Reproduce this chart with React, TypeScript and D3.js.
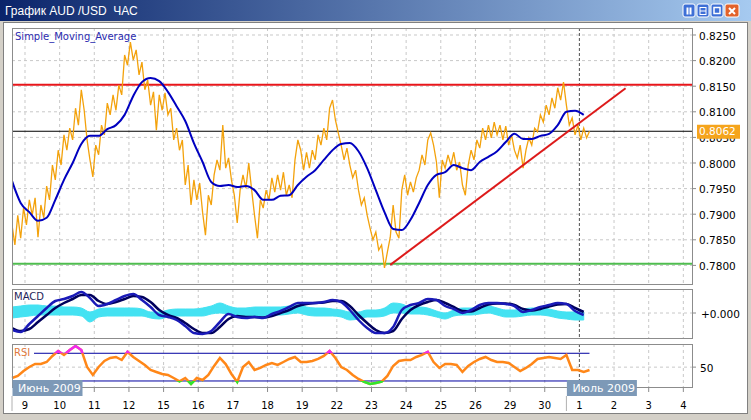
import * as d3 from 'd3';

// day labels under the chart, one per 24 hourly bars (weekends are skipped)
const DAY_LABELS = ['9', '10', '11', '12', '15', '16', '17', '18', '19', '22', '23', '24', '25', '26', '29', '30', '1', '2', '3', '4'];
const PRICE_TICKS = [0.825, 0.82, 0.815, 0.81, 0.805, 0.8, 0.795, 0.79, 0.785, 0.78];
const MONTHS = [
  { label: 'Июнь 2009', hour: -9 },
  { label: 'Июль 2009', hour: 375 },
];

// hours are counted from 9 June 00:00
const FIRST_HOUR = -9;
const PRICE_STEP = 2;
const price = [
  0.7879, 0.7840, 0.7898, 0.7853, 0.7912, 0.7879, 0.7928, 0.7898, 0.7932, 0.7855,
  0.7918, 0.7893, 0.7955, 0.7928, 0.7996, 0.7967, 0.8025, 0.7996, 0.8055, 0.8025,
  0.8068, 0.8045, 0.8107, 0.8074, 0.8143, 0.8103, 0.8045, 0.8006, 0.7973, 0.8035,
  0.8016, 0.8074, 0.8055, 0.8117, 0.8094, 0.8133, 0.8103, 0.8152, 0.8133, 0.8211,
  0.8191, 0.8236, 0.8201, 0.8221, 0.8172, 0.8197, 0.8143, 0.8162, 0.8113, 0.8139,
  0.8064, 0.8133, 0.8103, 0.8137, 0.8094, 0.8107, 0.8045, 0.8068, 0.8025, 0.8045,
  0.7957, 0.7996, 0.7918, 0.7967, 0.7928, 0.7961, 0.7904, 0.7859, 0.7937, 0.7918,
  0.7977, 0.8006, 0.7986, 0.8074, 0.7990, 0.8010, 0.7967, 0.7937, 0.7883, 0.7947,
  0.7977, 0.7951, 0.8000, 0.7947, 0.7898, 0.7853, 0.7928, 0.7912, 0.7947, 0.7928,
  0.7971, 0.7943, 0.7977, 0.7947, 0.7982, 0.7937, 0.7957, 0.7932, 0.8006, 0.8045,
  0.8025, 0.7986, 0.8021, 0.7990, 0.8025, 0.8006, 0.8055, 0.8035, 0.8068, 0.8045,
  0.8107, 0.8123, 0.8084, 0.8059, 0.8035, 0.8006, 0.8029, 0.7996, 0.7971, 0.7986,
  0.7947, 0.7918, 0.7932, 0.7898, 0.7873, 0.7850, 0.7865, 0.7830, 0.7840, 0.7795,
  0.7826, 0.7855, 0.7918, 0.7865, 0.7853, 0.7947, 0.7977, 0.7937, 0.7963, 0.7943,
  0.7971, 0.7986, 0.8016, 0.7996, 0.8045, 0.8059, 0.8035, 0.8002, 0.7932, 0.8006,
  0.7990, 0.8016, 0.7996, 0.8021, 0.7986, 0.8002, 0.7957, 0.7937, 0.7996, 0.8025,
  0.8006, 0.8045, 0.8029, 0.8068, 0.8045, 0.8074, 0.8049, 0.8080, 0.8055, 0.8074,
  0.8045, 0.8072, 0.8035, 0.8055, 0.8025, 0.8010, 0.8035, 0.7990, 0.8025, 0.8049,
  0.8035, 0.8068, 0.8061, 0.8094, 0.8080, 0.8113, 0.8094, 0.8127, 0.8107, 0.8147,
  0.8123, 0.8158, 0.8113, 0.8074, 0.8088, 0.8055, 0.8074, 0.8045, 0.8068, 0.8049,
  0.8062,
];

const IND_STEP = 6;
const sma = [
  0.7965, 0.7922, 0.7904, 0.7887, 0.7893, 0.7928, 0.7967, 0.8000, 0.8037, 0.8053,
  0.8053, 0.8066, 0.8074, 0.8094, 0.8131, 0.8158, 0.8166, 0.8160, 0.8139, 0.8111,
  0.8082, 0.8039, 0.8002, 0.7963, 0.7955, 0.7957, 0.7953, 0.7955, 0.7947, 0.7928,
  0.7928, 0.7936, 0.7937, 0.7957, 0.7973, 0.7986, 0.8006, 0.8025, 0.8037, 0.8039,
  0.8023, 0.7990, 0.7947, 0.7904, 0.7871, 0.7869, 0.7889, 0.7922, 0.7957, 0.7977,
  0.7982, 0.7996, 0.7990, 0.7986, 0.8002, 0.8012, 0.8023, 0.8041, 0.8057, 0.8047,
  0.8047, 0.8053, 0.8057, 0.8074, 0.8100, 0.8102, 0.8094,
];

const macd = [
  -0.0034, -0.0038, -0.0022, -0.0006, 0.0010, 0.0024, 0.0028, 0.0034, 0.0042, 0.0030,
  0.0014, 0.0018, 0.0026, 0.0034, 0.0038, 0.0026, 0.0012, -0.0004, -0.0008, -0.0014,
  -0.0026, -0.0040, -0.0042, -0.0036, -0.0018, -0.0002, -0.0008, -0.0010, -0.0008, -0.0010,
  -0.0002, 0.0004, 0.0012, 0.0020, 0.0020, 0.0020, 0.0022, 0.0026, 0.0022, 0.0006,
  -0.0014, -0.0030, -0.0040, -0.0040, -0.0028, 0.0006, 0.0016, 0.0020, 0.0028, 0.0026,
  0.0014, 0.0008, 0.0000, 0.0006, 0.0016, 0.0020, 0.0020, 0.0018, 0.0014, 0.0002,
  0.0006, 0.0012, 0.0016, 0.0020, 0.0018, 0.0004, -0.0004,
];
const signal = [
  -0.0030, -0.0036, -0.0032, -0.0018, -0.0004, 0.0010, 0.0020, 0.0028, 0.0036, 0.0036,
  0.0024, 0.0018, 0.0022, 0.0028, 0.0034, 0.0032, 0.0022, 0.0006, -0.0004, -0.0010,
  -0.0020, -0.0032, -0.0040, -0.0040, -0.0028, -0.0012, -0.0006, -0.0008, -0.0008, -0.0009,
  -0.0006, 0.0000, 0.0006, 0.0014, 0.0018, 0.0020, 0.0021, 0.0024, 0.0024, 0.0014,
  -0.0004, -0.0020, -0.0034, -0.0040, -0.0036, -0.0012, 0.0006, 0.0016, 0.0022, 0.0026,
  0.0020, 0.0012, 0.0004, 0.0003, 0.0010, 0.0017, 0.0019, 0.0019, 0.0016, 0.0008,
  0.0005, 0.0008, 0.0013, 0.0017, 0.0018, 0.0010, 0.0002,
];
// upper and lower edge of the cyan histogram band
const histHigh = [
  0.0012, 0.0014, 0.0016, 0.0016, 0.0014, 0.0014, 0.0012, 0.0012, 0.0010, 0.0002,
  0.0008, 0.0010, 0.0010, 0.0010, 0.0010, 0.0008, 0.0002, 0.0002, 0.0006, 0.0008,
  0.0008, 0.0008, 0.0010, 0.0014, 0.0020, 0.0014, 0.0010, 0.0010, 0.0012, 0.0012,
  0.0012, 0.0012, 0.0014, 0.0016, 0.0012, 0.0010, 0.0010, 0.0008, 0.0006, 0.0002,
  0.0002, 0.0006, 0.0006, 0.0010, 0.0020, 0.0018, 0.0012, 0.0012, 0.0010, 0.0004,
  0.0000, 0.0006, 0.0010, 0.0010, 0.0012, 0.0014, 0.0010, 0.0006, 0.0006, 0.0008,
  0.0010, 0.0010, 0.0008, 0.0004, 0.0002, 0.0002, 0.0002,
];
const histLow = [
  -0.0010, -0.0008, -0.0006, -0.0004, -0.0004, -0.0004, -0.0004, -0.0004, -0.0006, -0.0018,
  -0.0008, -0.0006, -0.0006, -0.0006, -0.0006, -0.0006, -0.0010, -0.0012, -0.0008, -0.0006,
  -0.0006, -0.0006, -0.0006, -0.0002, 0.0000, -0.0002, -0.0006, -0.0006, -0.0006, -0.0006,
  -0.0004, -0.0004, -0.0002, 0.0000, -0.0004, -0.0006, -0.0006, -0.0006, -0.0008, -0.0014,
  -0.0012, -0.0008, -0.0008, -0.0006, 0.0000, 0.0000, -0.0002, -0.0002, -0.0004, -0.0008,
  -0.0012, -0.0006, -0.0004, -0.0004, -0.0002, 0.0000, -0.0004, -0.0008, -0.0008, -0.0006,
  -0.0004, -0.0004, -0.0006, -0.0010, -0.0012, -0.0014, -0.0014,
];

const RSI_STEP = 4;
const rsi = [
  34.3, 37.2, 44.4, 50.2, 54.5, 54.5, 57.4, 66.1, 73.3, 67.6,
  74.8, 80.6, 74.8, 50.2, 38.7, 50.2, 58.9, 63.2, 64.7, 60.3,
  71.9, 64.7, 58.9, 53.1, 45.9, 43.0, 40.1, 38.7, 34.3, 29.5,
  34.3, 25.7, 34.3, 31.4, 38.7, 51.7, 63.2, 54.5, 40.1, 28.6,
  50.2, 57.4, 45.9, 48.8, 53.1, 56.0, 53.1, 57.4, 61.8, 64.7,
  57.4, 57.4, 58.9, 61.8, 66.1, 73.3, 63.2, 50.2, 45.9, 38.7,
  32.9, 28.6, 25.7, 27.1, 29.0, 37.2, 51.7, 58.9, 60.3, 60.3,
  64.7, 67.6, 71.9, 57.4, 48.8, 54.5, 54.5, 53.1, 43.0, 51.7,
  57.4, 61.8, 64.7, 60.3, 57.4, 57.4, 56.0, 50.2, 44.4, 48.8,
  54.5, 61.8, 63.2, 64.7, 63.2, 61.8, 67.6, 45.9, 45.9, 43.0,
  45.9,
];
const RSI_LEVELS = [70, 30];

const RESISTANCE = 0.8153;
const SUPPORT = 0.7803;
const LAST_PRICE = 0.8062;
const TREND_HOURS = [253, 416];
const TREND_PRICES = [0.7801, 0.8146];

const FONT = '"DejaVu Sans", Verdana, sans-serif';

export default function App() {
  const left = 12;
  const right = 692;
  const main = { top: 28, bottom: 284 };
  const mac = { top: 289, bottom: 338 };
  const osc = { top: 344, bottom: 387 };

  const x = d3.scaleLinear().domain([-9, 462]).range([left, right]);
  const yPrice = d3.scaleLinear().domain([0.776367, 0.826367]).range([main.bottom, main.top]);
  const yMacd = d3.scaleLinear().domain([-0.005, 0.0048]).range([mac.bottom, mac.top]);
  const yRsi = d3.scaleLinear().domain([21.3, 83.4]).range([osc.bottom, osc.top]);

  const dayHours = DAY_LABELS.map((_, i) => i * 24);
  const julyHour = dayHours[DAY_LABELS.indexOf('1', 10)];

  const priceLine = d3.line<number>()
    .x((_, i) => x(FIRST_HOUR + i * PRICE_STEP))
    .y(d => yPrice(d));
  const smaLine = d3.line<number>()
    .x((_, i) => x(FIRST_HOUR + i * IND_STEP))
    .y(d => yPrice(d))
    .curve(d3.curveMonotoneX);
  const macdLine = d3.line<number>()
    .x((_, i) => x(FIRST_HOUR + i * IND_STEP))
    .y(d => yMacd(d))
    .curve(d3.curveMonotoneX);
  const histArea = d3.area<number>()
    .x((_, i) => x(FIRST_HOUR + i * IND_STEP))
    .y0((_, i) => yMacd(histLow[i]))
    .y1(d => yMacd(d))
    .curve(d3.curveMonotoneX);
  const rsiLine = d3.line<number>()
    .x((_, i) => x(FIRST_HOUR + i * RSI_STEP))
    .y(d => yRsi(d));

  const rsiEnd = x(FIRST_HOUR + (rsi.length - 1) * RSI_STEP);

  const grid = '#c8c8c8';
  const frame = '#8c8c8c';

  const panelGrid = (p: { top: number; bottom: number }) => (
    <g>
      {dayHours.map(h => (
        <line key={h} x1={x(h)} x2={x(h)} y1={p.top} y2={p.bottom}
          stroke={h === julyHour ? '#505050' : grid}
          strokeDasharray={h === julyHour ? '3,2' : '3,3'} />
      ))}
    </g>
  );

  return (
    <svg width={751} height={420} style={{ position: 'fixed', left: 0, top: 0 }}
      xmlns="http://www.w3.org/2000/svg">
      <defs>
        <linearGradient id="title" x1="0" x2="1" y1="0" y2="0">
          <stop offset="0%" stopColor="#0a246a" />
          <stop offset="100%" stopColor="#a6caf0" />
        </linearGradient>
        <clipPath id="clipMain"><rect x={left} y={main.top} width={right - left} height={main.bottom - main.top} /></clipPath>
        <clipPath id="clipMacd"><rect x={left} y={mac.top} width={right - left} height={mac.bottom - mac.top} /></clipPath>
        <clipPath id="clipHigh"><rect x={left} y={osc.top} width={right - left} height={yRsi(70) - osc.top} /></clipPath>
        <clipPath id="clipLow"><rect x={left} y={yRsi(30)} width={right - left} height={osc.bottom - yRsi(30)} /></clipPath>
      </defs>

      {/* window frame */}
      <rect x={0} y={0} width={751} height={420} fill="#d4d0c8" />
      <rect x={0} y={0} width={751} height={21} fill="url(#title)" />
      <text x={5} y={15} fill="#fff" fontSize={12} fontFamily='"Liberation Sans", Arial, sans-serif'
        style={{ whiteSpace: 'pre' }}>{'График AUD /USD  ЧАС'}</text>
      {[683, 697, 711].map((bx, i) => (
        <g key={bx}>
          <rect x={bx} y={4} width={12} height={13} rx={2} fill="#3d6fd6" stroke="#fff" />
          {i === 0 && <><rect x={bx + 3.5} y={7.5} width={2} height={7} fill="#fff" /><rect x={bx + 6.5} y={7.5} width={2} height={7} fill="#fff" /></>}
          {i === 1 && <><rect x={bx + 3} y={7.5} width={6} height={7} fill="none" stroke="#fff" /><line x1={bx + 3} x2={bx + 9} y1={11} y2={11} stroke="#fff" /></>}
          {i === 2 && <rect x={bx + 3} y={7.5} width={6} height={6} fill="none" stroke="#fff" strokeWidth={1.5} />}
        </g>
      ))}
      <rect x={725} y={4} width={14} height={13} rx={2} fill="#e2622b" stroke="#fff" />
      <path d="M729,8 L735,14 M735,8 L729,14" stroke="#fff" strokeWidth={2} />
      <rect x={3.5} y={22.5} width={744} height={391} fill="#fff" stroke="#808080" />

      {/* main panel */}
      {PRICE_TICKS.map(t => (
        <g key={t}>
          <line x1={left} x2={right} y1={yPrice(t)} y2={yPrice(t)} stroke={grid} strokeDasharray="3,3" />
          <line x1={right} x2={right + 4} y1={yPrice(t)} y2={yPrice(t)} stroke={frame} />
          <text x={right + 7} y={yPrice(t) + 1} dy="0.35em" fontSize={10.5} fontFamily={FONT} fill="#000">{t.toFixed(4)}</text>
        </g>
      ))}
      {panelGrid(main)}
      <g clipPath="url(#clipMain)">
        <line x1={left} x2={right} y1={yPrice(RESISTANCE)} y2={yPrice(RESISTANCE)} stroke="#e8161b" strokeWidth={2} />
        <line x1={left} x2={right} y1={yPrice(SUPPORT)} y2={yPrice(SUPPORT)} stroke="#4fbd4f" strokeWidth={2} />
        <line x1={left} x2={right} y1={yPrice(LAST_PRICE)} y2={yPrice(LAST_PRICE)} stroke="#000" />
        <path d={priceLine(price) ?? ''} fill="none" stroke="#f3a20c" strokeWidth={1.3} />
        <path d={smaLine(sma) ?? ''} fill="none" stroke="#0000c0" strokeWidth={2} />
        <line x1={x(TREND_HOURS[0])} x2={x(TREND_HOURS[1])} y1={yPrice(TREND_PRICES[0])} y2={yPrice(TREND_PRICES[1])}
          stroke="#dd1a1a" strokeWidth={2} />
      </g>
      <rect x={left + 0.5} y={main.top + 0.5} width={right - left} height={main.bottom - main.top} fill="none" stroke={frame} />
      <text x={15} y={36} dy="0.35em" fontSize={10} fontFamily={FONT} fill="#2b2bb0">Simple_Moving_Average</text>
      <rect x={697} y={yPrice(LAST_PRICE) - 6.5} width={43} height={14} fill="#f5a41c" />
      <text x={699} y={yPrice(LAST_PRICE) + 0.5} dy="0.35em" fontSize={10.5} fontFamily={FONT} fill="#fff">{LAST_PRICE.toFixed(4)}</text>

      {/* MACD panel */}
      <line x1={left} x2={right} y1={yMacd(0)} y2={yMacd(0)} stroke={grid} strokeDasharray="3,3" />
      {panelGrid(mac)}
      <g clipPath="url(#clipMacd)">
        <path d={histArea(histHigh) ?? ''} fill="#44e2f2" stroke="#44e2f2" strokeWidth={1} />
        <path d={macdLine(signal) ?? ''} fill="none" stroke="#00005c" strokeWidth={2.5} />
        <path d={macdLine(macd) ?? ''} fill="none" stroke="#1a1ab8" strokeWidth={2.5} />
      </g>
      <rect x={left + 0.5} y={mac.top + 0.5} width={right - left} height={mac.bottom - mac.top} fill="none" stroke={frame} />
      <line x1={right} x2={right + 4} y1={yMacd(0)} y2={yMacd(0)} stroke={frame} />
      <text x={right + 9} y={yMacd(0) + 1} dy="0.35em" fontSize={10.5} fontFamily={FONT} fill="#000">+0.000</text>
      <text x={14} y={296} dy="0.35em" fontSize={10} fontFamily={FONT} fill="#1e1e5a">MACD</text>

      {/* RSI panel */}
      <line x1={left} x2={right} y1={yRsi(50)} y2={yRsi(50)} stroke={grid} strokeDasharray="3,3" />
      {panelGrid(osc)}
      {RSI_LEVELS.map(l => (
        <line key={l} x1={l === 70 ? 34 : left} x2={rsiEnd} y1={yRsi(l)} y2={yRsi(l)} stroke="#0000a0" />
      ))}
      <path d={rsiLine(rsi) ?? ''} fill="none" stroke="#ff8718" strokeWidth={2.5} />
      <path d={rsiLine(rsi) ?? ''} fill="none" stroke="#f028f0" strokeWidth={2.5} clipPath="url(#clipHigh)" />
      <path d={rsiLine(rsi) ?? ''} fill="none" stroke="#2ee82e" strokeWidth={2.5} clipPath="url(#clipLow)" />
      <rect x={left + 0.5} y={osc.top + 0.5} width={right - left} height={osc.bottom - osc.top} fill="none" stroke={frame} />
      <line x1={right} x2={right + 4} y1={yRsi(50)} y2={yRsi(50)} stroke={frame} />
      <text x={right + 8} y={yRsi(50) + 1} dy="0.35em" fontSize={10.5} fontFamily={FONT} fill="#000">50</text>
      <text x={14} y={352} dy="0.35em" fontSize={10} fontFamily={FONT} fill="#e0783c">RSI</text>

      {/* time axis */}
      {dayHours.map((h, i) => (
        <g key={h}>
          <line x1={x(h)} x2={x(h)} y1={osc.bottom} y2={osc.bottom + 5} stroke={frame} />
          <text x={x(h)} y={405} dy="0.35em" textAnchor="middle" fontSize={10} fontFamily={FONT} fill="#000">{DAY_LABELS[i]}</text>
        </g>
      ))}
      {MONTHS.map(m => (
        <g key={m.label}>
          <line x1={x(m.hour)} x2={x(m.hour)} y1={396} y2={411} stroke="#b0b0b0" />
          <rect x={x(m.hour) + 0.5} y={380} width={70} height={16} fill="#7d99b7" />
          <text x={x(m.hour) + 6} y={388.5} dy="0.35em" fontSize={11} fontFamily={FONT} fill="#fff">{m.label}</text>
        </g>
      ))}
    </svg>
  );
}
